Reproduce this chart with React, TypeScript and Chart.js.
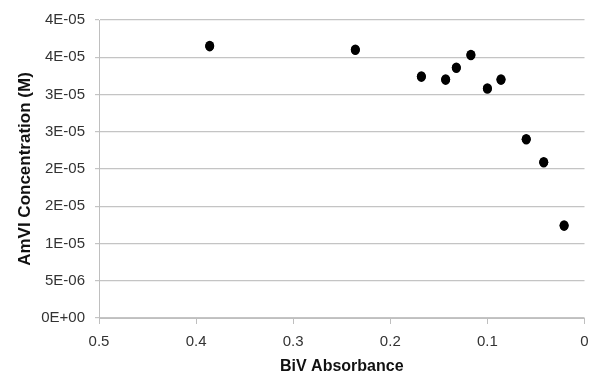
import React, { useEffect, useRef } from "react";
import { Chart, registerables } from "chart.js";

Chart.register(...registerables);

const absorbance = [0.386, 0.236, 0.168, 0.143, 0.132, 0.117, 0.1, 0.086, 0.06, 0.042, 0.021];
const concentration = [3.65e-5, 3.6e-5, 3.24e-5, 3.2e-5, 3.36e-5, 3.53e-5, 3.08e-5, 3.2e-5, 2.4e-5, 2.09e-5, 1.24e-5];

const xTitle = "BiV Absorbance";
const yTitle = "AmVI Concentration (M)";

function fmtExcel(v: number): string {
  if (Math.abs(v) < 1e-12) return "0E+00";
  let exp = Math.floor(Math.log10(Math.abs(v)) + 1e-9);
  let m = Math.round(v / Math.pow(10, exp) + 1e-9);
  if (m >= 10) {
    m = m / 10;
    exp += 1;
  }
  const sign = exp < 0 ? "-" : "+";
  const e = Math.abs(exp).toString().padStart(2, "0");
  return `${m}E${sign}${e}`;
}

export default function App() {
  const ref = useRef<HTMLCanvasElement | null>(null);
  useEffect(() => {
    document.body.style.margin = "0";
    const dotPlugin = {
      id: "ellipseDots",
      afterDatasetsDraw(chart: any) {
        const ctx = chart.ctx;
        const meta = chart.getDatasetMeta(0);
        ctx.save();
        ctx.fillStyle = "#000";
        meta.data.forEach((pt: any) => {
          ctx.beginPath();
          ctx.ellipse(pt.x, pt.y, 4.5, 5.3, 0, 0, Math.PI * 2);
          ctx.fill();
        });
        ctx.restore();
      },
    };
    const chart = new Chart(ref.current!, {
      type: "scatter",
      data: {
        datasets: [
          {
            data: absorbance.map((x, i) => ({ x, y: concentration[i] })),
            pointRadius: 4.5,
            backgroundColor: "#000",
            borderColor: "#000",
            borderWidth: 0,
          },
        ],
      },
      plugins: [dotPlugin],
      options: {
        animation: false,
        responsive: false,
        devicePixelRatio: 1,
        layout: { padding: { top: 20, right: 3, left: 0, bottom: 0 } },
        plugins: { legend: { display: false }, tooltip: { enabled: false } },
        scales: {
          x: {
            type: "linear",
            reverse: true,
            min: 0,
            max: 0.5,
            afterFit: (s: any) => {
              s.height = 60;
              s.paddingLeft = 0;
              s.paddingRight = 0;
            },
            ticks: {
              stepSize: 0.1,
              padding: 9,
              color: "#333",
              font: { family: "Liberation Sans", size: 15 },
              maxRotation: 0,
              callback: (v: any) => String(Math.round(Number(v) * 10) / 10),
            },
            grid: {
              drawOnChartArea: false,
              drawTicks: true,
              tickLength: 6,
              color: "#bfbfbf",
            },
            border: { color: "#bfbfbf", width: 1 },
            title: {
              display: true,
              text: xTitle,
              color: "#111",
              font: { family: "Liberation Sans", size: 16, weight: "bold" },
              padding: { top: 0, bottom: 2 },
            },
          },
          y: {
            type: "linear",
            min: 0,
            max: 4e-5,
            afterFit: (s: any) => {
              s.width = 99;
              s.paddingTop = 0;
              s.paddingBottom = 0;
            },
            ticks: {
              stepSize: 5e-6,
              padding: 10,
              color: "#333",
              font: { family: "Liberation Sans", size: 15 },
              callback: (v: any) => fmtExcel(Number(v)),
            },
            grid: {
              color: "#c4c4c4",
              lineWidth: 1.2,
              tickLength: 4,
            },
            border: { color: "#bfbfbf", width: 1 },
            title: {
              display: true,
              text: yTitle,
              color: "#111",
              font: { family: "Liberation Sans", size: 17, weight: "bold" },
              padding: { top: 15, bottom: 0 },
            },
          },
        },
      },
    });
    return () => chart.destroy();
  }, []);
  return (
    <div style={{ width: 589, height: 378 }}>
      <canvas ref={ref} width={589} height={378} style={{ display: "block" }} />
    </div>
  );
}
